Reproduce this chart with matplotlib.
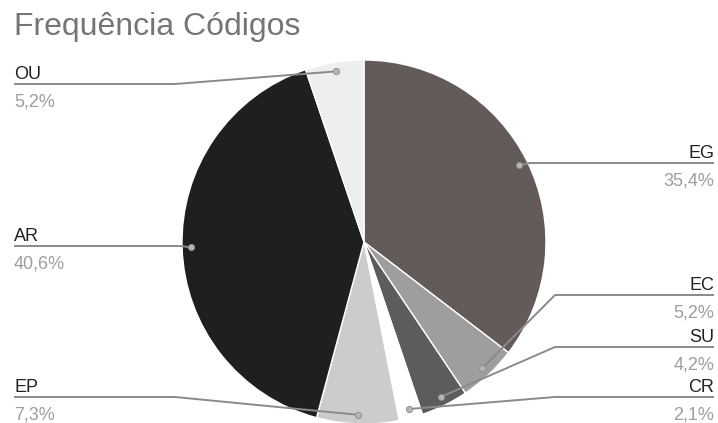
import numpy as np
import matplotlib
matplotlib.use("Agg")
import matplotlib.pyplot as plt

# ---- data ----
categories = ['EG', 'EC', 'SU', 'CR', 'EP', 'AR', 'OU']
values = [35.4, 5.2, 4.2, 2.1, 7.3, 40.6, 5.2]
pct_labels = ['35,4%', '5,2%', '4,2%', '2,1%', '7,3%', '40,6%', '5,2%']
colors = ['#635b58', '#9e9e9e', '#5c5c5c', '#ffffff', '#cccccc', '#1f1f1f', '#eeeeee']
title = 'Frequência Códigos'

# ---- layout (pixel coordinates, y measured from top) ----
W, H = 718, 423
cx, cy, R = 364, 242, 182
side = ['R', 'R', 'R', 'R', 'L', 'L', 'L']
line_y = [163, 295, 347, 397, 397, 246, 84]
knee_x = [530, 555, 555, 555, 175, 180, 175]
left_x, right_x = 14, 714

plt.rcParams['font.family'] = ['Liberation Sans', 'DejaVu Sans']
fig = plt.figure(figsize=(W / 100, H / 100), dpi=100)
ax = fig.add_axes([0, 0, 1, 1])

wedges, _ = ax.pie(values, colors=colors, startangle=90, counterclock=False,
                   center=(cx, H - cy), radius=R,
                   wedgeprops=dict(edgecolor='white', linewidth=1.0))
ax.set_xlim(0, W)
ax.set_ylim(0, H)
ax.set_aspect('auto')
ax.axis('off')

line_col = '#8a8a8a'
for i, w in enumerate(wedges):
    mid = np.deg2rad((w.theta1 + w.theta2) / 2)
    dx = cx + 0.95 * R * np.cos(mid)
    dy = (H - cy) + 0.95 * R * np.sin(mid)
    ly = H - line_y[i]
    end = right_x if side[i] == 'R' else left_x
    ax.plot([dx, knee_x[i], end], [dy, ly, ly], color=line_col, lw=1.4,
            solid_capstyle='butt', zorder=5)
    ax.plot([dx], [dy], marker='o', ms=4.5, color='#b5b5b5', mec='#8a8a8a',
            mew=0.6, zorder=6)
    ha = 'right' if side[i] == 'R' else 'left'
    ax.text(end, ly + 5, categories[i], ha=ha, va='baseline', fontsize=13,
            color='#222222')
    ax.text(end, ly - 22, pct_labels[i], ha=ha, va='baseline', fontsize=13,
            color='#9e9e9e')

ax.text(14, H - 35, title, ha='left', va='baseline', fontsize=23,
        color='#757575')

fig.savefig('out.png', dpi=100, facecolor='white')
